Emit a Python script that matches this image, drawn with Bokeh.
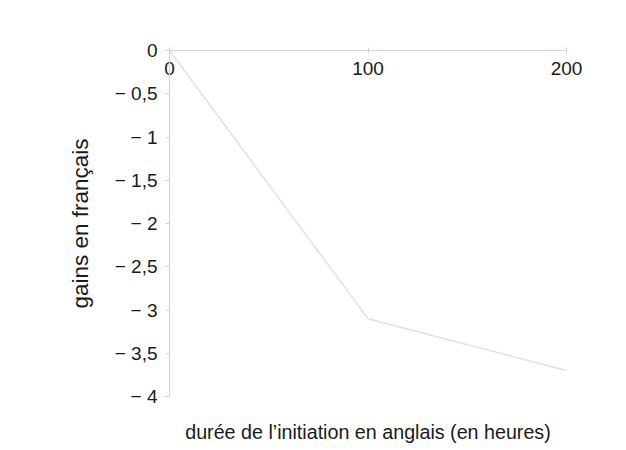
from bokeh.plotting import figure
from bokeh.models import LinearAxis, FixedTicker, Range1d
from bokeh.embed import file_html
from bokeh.resources import INLINE

# data
hours = [0, 100, 200]
gains = [0, -3.1, -3.7]
x_ticks = [0, 100, 200]
y_ticks = [0, -0.5, -1, -1.5, -2, -2.5, -3, -3.5, -4]
y_tick_labels = ["0", "\u2212 0,5", "\u2212 1", "\u2212 1,5", "\u2212 2", "\u2212 2,5", "\u2212 3", "\u2212 3,5", "\u2212 4"]
x_title = "durée de l\u2019initiation en anglais (en heures)"
y_title = "gains en français"

FONT = "Liberation Sans"
AXIS_COL = "#d4d4d4"

p = figure(width=617, height=446, output_backend="svg", toolbar_location=None,
           x_range=Range1d(0, 200), y_range=Range1d(-4, 0),
           x_axis_location=None, y_axis_location=None,
           min_border_left=169, min_border_right=51, min_border_top=50, min_border_bottom=50)
p.outline_line_color = None
p.grid.visible = False
p.background_fill_color = "white"
p.border_fill_color = "white"

# top x axis (labels drawn inward, below the line)
xa = LinearAxis(ticker=FixedTicker(ticks=x_ticks))
xa.axis_line_color = AXIS_COL
xa.major_tick_line_color = AXIS_COL
xa.major_tick_out = 3
xa.major_tick_in = 3
xa.minor_tick_line_color = None
xa.major_label_standoff = -27
xa.major_label_text_font = FONT
xa.major_label_text_font_size = "19px"
xa.major_label_text_color = "#1a1a1a"
p.add_layout(xa, "above")

# bottom: only the axis title (no line, no ticks)
xb = LinearAxis(ticker=FixedTicker(ticks=[]))
xb.axis_line_color = None
xb.major_tick_line_color = None
xb.minor_tick_line_color = None
xb.major_tick_out = 0
xb.major_label_standoff = 0
xb.axis_label = x_title
xb.axis_label_text_font = FONT
xb.axis_label_text_font_size = "19.7px"
xb.axis_label_text_font_style = "normal"
xb.axis_label_text_color = "#1a1a1a"
xb.axis_label_standoff = 24
p.add_layout(xb, "below")

# left y axis
ya = LinearAxis(ticker=FixedTicker(ticks=y_ticks))
ya.major_label_overrides = {t: l for t, l in zip(y_ticks, y_tick_labels)}
ya.axis_line_color = AXIS_COL
ya.major_tick_line_color = AXIS_COL
ya.major_tick_out = 4
ya.major_tick_in = 0
ya.minor_tick_line_color = None
ya.major_label_standoff = 8
ya.major_label_text_font = FONT
ya.major_label_text_font_size = "19px"
ya.major_label_text_color = "#1a1a1a"
ya.axis_label = y_title
ya.axis_label_text_font = FONT
ya.axis_label_text_font_size = "22.5px"
ya.axis_label_text_font_style = "normal"
ya.axis_label_text_color = "#1a1a1a"
ya.axis_label_standoff = 19
p.add_layout(ya, "left")

p.line(hours, gains, line_color="#e2e2e2", line_width=1.5)

open("out.html", "w").write(file_html(p, INLINE))
